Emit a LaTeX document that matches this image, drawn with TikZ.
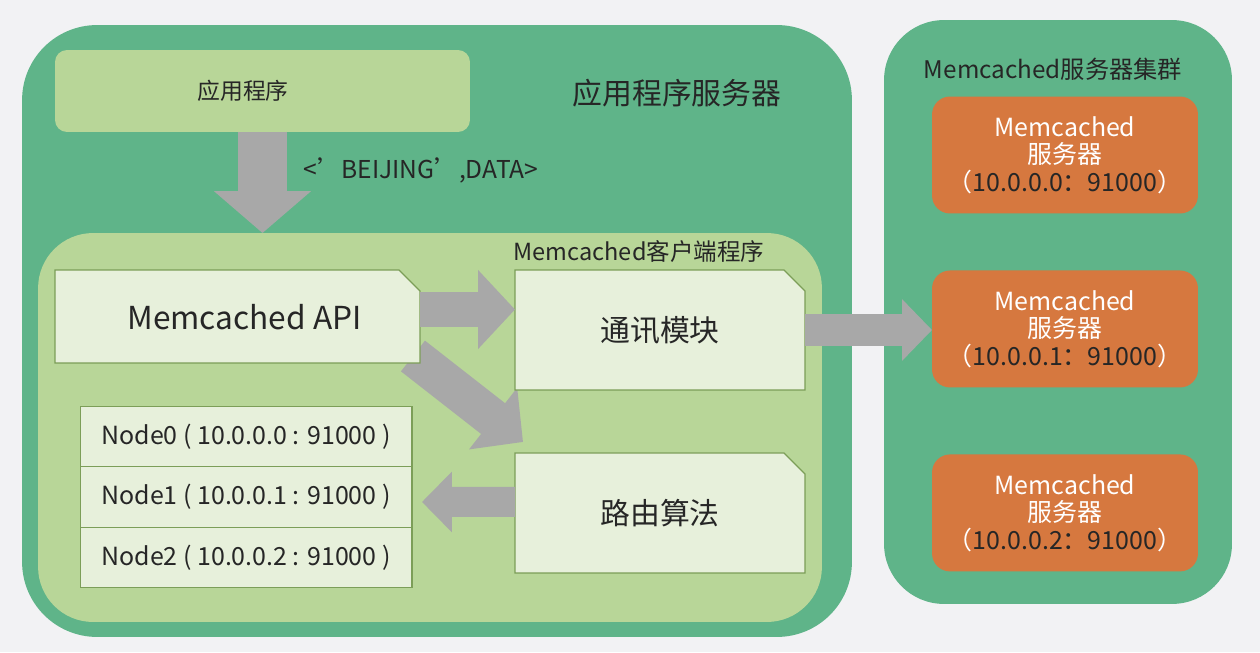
\documentclass[tikz,border=0pt]{standalone}
\usepackage{fontspec}
\setmainfont{Noto Sans CJK SC}
\usepackage{tikz}
\usetikzlibrary{positioning,arrows.meta,shapes.misc}
\definecolor{bggray}{HTML}{F2F2F4}
\definecolor{srvgreen}{HTML}{5FB489}
\definecolor{appgreen}{HTML}{B8D698}
\definecolor{boxfill}{HTML}{E7F0DB}
\definecolor{boxline}{HTML}{7C9E58}
\definecolor{arrowgray}{HTML}{A8A8A8}
\definecolor{srvorange}{HTML}{D6783F}
\definecolor{txt}{HTML}{262626}
\pgfdeclarelayer{back}
\pgfdeclarelayer{mid}
\pgfsetlayers{back,mid,main}

\begin{document}
\begin{tikzpicture}[
  x=0.02cm, y=-0.02cm,
  panel/.style={inner sep=0pt, outer sep=0pt},
  cutbox/.style={chamfered rectangle, chamfered rectangle corners=north east,
                 chamfered rectangle xsep=0.2cm, chamfered rectangle ysep=0.22cm,
                 fill=boxfill, draw=boxline, line width=0.7pt,
                 inner sep=0pt, outer sep=0pt, text=txt},
  listbox/.style={fill=boxfill, draw=boxline, line width=0.6pt,
                  minimum width=6.64cm, minimum height=1.21cm, inner sep=0pt, outer sep=0pt,
                  font=\fontsize{14.2}{16}\selectfont, text=txt},
  srvbox/.style={fill=srvorange, rounded corners=0.36cm, minimum width=5.32cm, minimum height=2.34cm,
                 inner sep=0pt, outer sep=0pt, align=center, text=txt,
                 font=\fontsize{14.2}{15.6}\selectfont},
  title/.style={text=txt, inner sep=0pt},
  blockarrow/.style={draw=arrowgray, line cap=butt}
]
\useasboundingbox (0,0) rectangle (1260,652);

% --- containers ---
\begin{pgfonlayer}{back}
\fill[bggray] (0,0) rectangle (1260,652);
\node[panel, fill=srvgreen, rounded corners=1.5cm, minimum width=16.6cm, minimum height=12.24cm] (appsrv) at (437,331) {};
\node[panel, fill=srvgreen, rounded corners=1.2cm, minimum width=6.96cm, minimum height=11.68cm] (cluster) at (1058,312) {};
\node[panel, fill=appgreen, rounded corners=1.1cm, minimum width=15.68cm, minimum height=7.78cm] (client) at (430,427.5) {};
\end{pgfonlayer}

% --- application server ---
\node[panel, fill=appgreen, rounded corners=0.24cm, minimum width=8.3cm, minimum height=1.64cm,
      label={[title, xshift=-0.39cm, font=\fontsize{13}{15}\selectfont]center:应用程序}] (app) at (262.5,91) {};
\node[title, font=\fontsize{17}{20}\selectfont] (apptitle) at (677,93) {应用程序服务器};

% --- client ---
\node[title, font=\fontsize{13.4}{15}\selectfont] (clienttitle) at (639,252) {Memcached客户端程序};
\node[cutbox, minimum width=7.3cm, minimum height=1.86cm, font=\fontsize{18}{20}\selectfont,
      text depth=0pt] (api) at (237.5,316.5) {\hspace*{0.28cm}Memcached API};
\node[cutbox, minimum width=5.8cm, minimum height=2.4cm, font=\fontsize{17}{20}\selectfont] (comm) at (660,330) {通讯模块};
\node[cutbox, minimum width=5.8cm, minimum height=2.4cm, font=\fontsize{17}{20}\selectfont, below=1.26cm of comm] (route) {路由算法};

\node[listbox] (n0) at (246,436.5) {Node0 ( 10.0.0.0 : 91000 )};
\node[listbox, below=0pt of n0] (n1) {Node1 ( 10.0.0.1 : 91000 )};
\node[listbox, below=0pt of n1] (n2) {Node2 ( 10.0.0.2 : 91000 )};

% --- server cluster ---
\node[title, font=\fontsize{13.8}{16}\selectfont] (clustertitle) at (1053,69) {Memcached服务器集群};
\node[srvbox] (srv0) at (1065,155) {\textcolor{white}{Memcached}\\\textcolor{white}{服务器}\\\textcolor{white}{（}10.0.0.0：91000\textcolor{white}{）}};
\node[srvbox, below=1.14cm of srv0] (srv1) {\textcolor{white}{Memcached}\\\textcolor{white}{服务器}\\\textcolor{white}{（}10.0.0.1：91000\textcolor{white}{）}};
\node[srvbox, below=1.34cm of srv1] (srv2) {\textcolor{white}{Memcached}\\\textcolor{white}{服务器}\\\textcolor{white}{（}10.0.0.2：91000\textcolor{white}{）}};

% --- arrows ---
\draw[blockarrow, line width=0.98cm, -{Triangle[width=1.9cm, length=0.84cm]}] (app.south) -- (app.south |- client.north);
\node[title, anchor=west, font=\fontsize{14}{16}\selectfont] (keydata) at (303,170) {<’BEIJING’,DATA>};
\draw[blockarrow, line width=0.7cm, -{Triangle[width=1.54cm, length=0.74cm]}] ([yshift=0.14cm]api.east) -- ([yshift=0.14cm]api.east -| comm.west);
\begin{pgfonlayer}{mid}
\draw[blockarrow, line width=0.78cm, -{Triangle[width=1.52cm, length=0.76cm]}] ([shift={(-7,-7)}]api.south east) -- ([shift={(8,-11)}]route.north west);
\end{pgfonlayer}
\draw[blockarrow, line width=0.6cm, -{Triangle[width=1.18cm, length=0.6cm]}] ([yshift=0.22cm]route.west) -- ([shift={(10,-11)}]route.west -| n1.east);
\draw[blockarrow, line width=0.64cm, -{Triangle[width=1.2cm, length=0.6cm]}] (comm.east) -- (comm.east -| srv1.west);

\end{tikzpicture}
\end{document}
